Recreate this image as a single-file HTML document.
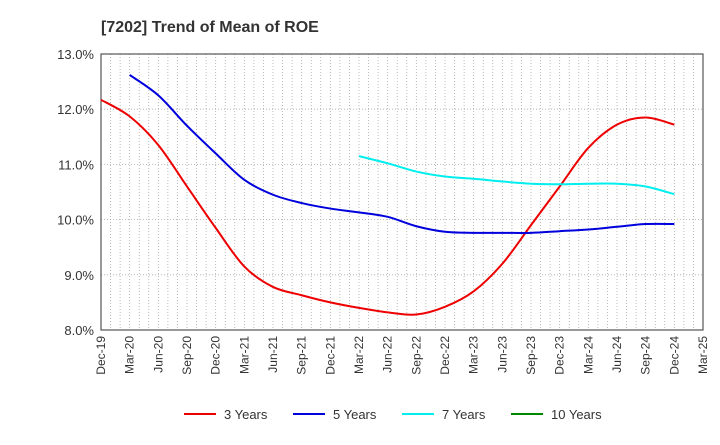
<!DOCTYPE html>
<html><head><meta charset="utf-8"><style>
body{margin:0;background:#fff;font-family:"Liberation Sans",sans-serif}
</style></head><body>
<svg id="c" width="720" height="440" xmlns="http://www.w3.org/2000/svg">
<text x="101" y="32" font-size="16" font-weight="bold" fill="#333">[7202]  Trend of Mean of ROE</text>
<g id="grid"></g><g id="axes"></g><g id="series"></g><g id="legend"></g>
</svg>
<script>
const xLabels=["Dec-19","Mar-20","Jun-20","Sep-20","Dec-20","Mar-21","Jun-21","Sep-21","Dec-21","Mar-22","Jun-22","Sep-22","Dec-22","Mar-23","Jun-23","Sep-23","Dec-23","Mar-24","Jun-24","Sep-24","Dec-24","Mar-25"];
const yTicks=[8,9,10,11,12,13];
const y3=[12.17,11.87,11.35,10.6,9.85,9.15,8.78,8.63,8.5,8.4,8.32,8.28,8.42,8.7,9.2,9.9,10.6,11.3,11.72,11.85,11.72];
const y5=[null,12.62,12.25,11.7,11.2,10.72,10.45,10.3,10.2,10.13,10.05,9.88,9.78,9.76,9.76,9.76,9.79,9.82,9.87,9.92,9.92];
const y7=[null,null,null,null,null,null,null,null,null,11.15,11.02,10.87,10.78,10.74,10.69,10.65,10.64,10.65,10.65,10.6,10.46];
const y10=[];
const L=101,R=703,T=54,B=330,NS="http://www.w3.org/2000/svg";
const xs=i=>L+(R-L)*i/(xLabels.length-1);
const ys=v=>B-(v-8)/5*(B-T);
function mk(tag,at,par){const e=document.createElementNS(NS,tag);for(const k in at)e.setAttribute(k,at[k]);document.getElementById(par).appendChild(e);return e;}
for(let m=1;m<(xLabels.length-1)*3;m++){const x=L+(R-L)*m/((xLabels.length-1)*3);
const g=mk("line",{x1:x,x2:x,y1:T,y2:B,stroke:"#aaa","stroke-dasharray":"1,2","stroke-width":0.8},"grid");
}
yTicks.forEach(v=>{const g=mk("line",{x1:L,x2:R,y1:ys(v),y2:ys(v),stroke:"#aaa","stroke-dasharray":"1,2","stroke-width":0.8},"grid");

const t=mk("text",{x:L-7,y:ys(v)+5,"text-anchor":"end","font-size":13,fill:"#333"},"axes");t.textContent=v.toFixed(1)+"%";
});
const f=mk("rect",{x:L,y:T,width:R-L,height:B-T,fill:"none",stroke:"#333","stroke-width":1},"axes");

xLabels.forEach((s,i)=>{const x=xs(i);const t=mk("text",{transform:`translate(${x+4},${B+6}) rotate(-90)`,"text-anchor":"end","font-size":12,fill:"#333"},"axes");t.textContent=s;
});
function path(arr){const p=arr.map((v,i)=>v==null?null:[xs(i),ys(v)]).filter(a=>a);if(p.length<2)return"";
let d=`M${p[0][0]},${p[0][1]}`;for(let i=0;i<p.length-1;i++){const p0=p[i-1]||p[i],p1=p[i],p2=p[i+1],p3=p[i+2]||p2;
d+=`C${p1[0]+(p2[0]-p0[0])/6},${p1[1]+(p2[1]-p0[1])/6} ${p2[0]-(p3[0]-p1[0])/6},${p2[1]-(p3[1]-p1[1])/6} ${p2[0]},${p2[1]}`;}return d;}
const series=[["3 Years",y3,"#ee0000"],["5 Years",y5,"#0000dd"],["7 Years",y7,"#00eeee"],["10 Years",y10,"#008800"]];
series.forEach((s,k)=>{const d=path(s[1]);if(d){const e=mk("path",{d:d,fill:"none",stroke:s[2],"stroke-width":2},"series");
}
const lx=184+k*109;const ln=mk("line",{x1:lx,x2:lx+32,y1:414,y2:414,stroke:s[2],"stroke-width":2},"legend");

const t=mk("text",{x:lx+40,y:419,"font-size":13,fill:"#333"},"legend");t.textContent=s[0];
});
</script>
</body></html>
